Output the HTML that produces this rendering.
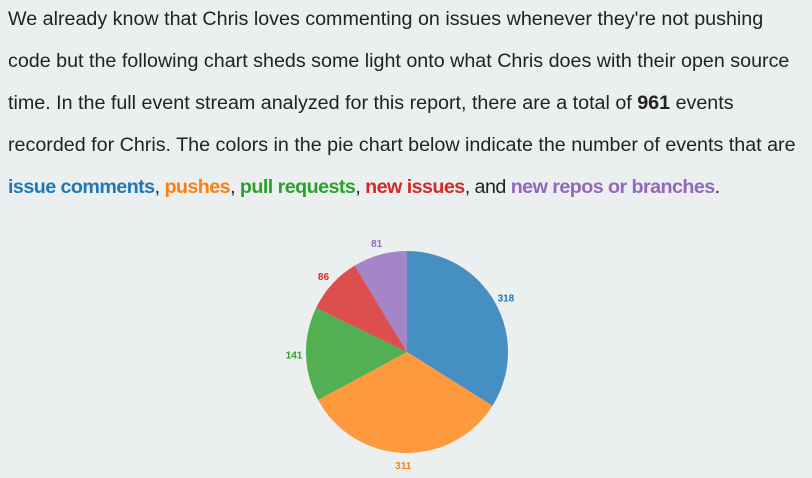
<!DOCTYPE html>
<html><head><meta charset="utf-8"><style>
body{margin:0;width:812px;height:478px;background:#ecefef;overflow:hidden;font-family:"Liberation Sans",sans-serif;}
.p{position:absolute;left:8px;top:0;color:#222;font-size:19.7px;}
.l{height:42px;line-height:38px;white-space:nowrap;}
svg{position:absolute;left:0;top:0}
</style></head><body>
<div class="p">
<div class="l">We already know that Chris loves commenting on issues whenever they're not pushing</div>
<div class="l">code but the following chart sheds some light onto what Chris does with their open source</div>
<div class="l">time. In the full event stream analyzed for this report, there are a total of <b>961</b> events</div>
<div class="l">recorded for Chris. The colors in the pie chart below indicate the number of events that are</div>
<div class="l" style="letter-spacing:-0.55px"><b style="color:#1f77b4">issue comments</b>, <b style="color:#ff7f0e">pushes</b>, <b style="color:#2ca02c">pull requests</b>, <b style="color:#d62728">new issues</b>, and <b style="color:#9467bd">new repos or branches</b>.</div>
</div>
<svg id="pie" width="812" height="478"></svg>
<script>
const categories=["issue comments","pushes","pull requests","new issues","new repos or branches"];
const values=[318,311,141,86,81];
const fills=["#458fc3","#fe9a3d","#52af52","#dd4e4f","#a486c8"];
const labelColors=["#1f77b4","#ff7f0e","#2ca02c","#d62728","#9467bd"];
const svg=document.getElementById('pie');
const NS="http://www.w3.org/2000/svg";
const cx=407,cy=352,r=101,lr=113;
const total=values.reduce((a,b)=>a+b,0);
function pt(a,rad){return [cx+rad*Math.sin(a),cy-rad*Math.cos(a)];}
let a0=0;
values.forEach((v,i)=>{
  const a1=a0+v/total*2*Math.PI;
  const p0=pt(a0,r),p1=pt(a1,r);
  const path=document.createElementNS(NS,'path');
  path.setAttribute('d',`M${cx},${cy}L${p0[0]},${p0[1]}A${r},${r} 0 ${a1-a0>Math.PI?1:0} 1 ${p1[0]},${p1[1]}Z`);
  path.setAttribute('fill',fills[i]);
  
  
  svg.appendChild(path);
  const m=(a0+a1)/2,lp=pt(m,lr);
  const t=document.createElementNS(NS,'text');
  t.setAttribute('x',lp[0]);t.setAttribute('y',lp[1]+4);
  t.setAttribute('text-anchor','middle');
  t.setAttribute('font-size','10');t.setAttribute('font-weight','bold');
  t.setAttribute('font-family','Liberation Sans, sans-serif');
  t.setAttribute('fill',labelColors[i]);
  t.textContent=v;
  
  
  svg.appendChild(t);
  a0=a1;
});
</script>
</body></html>
